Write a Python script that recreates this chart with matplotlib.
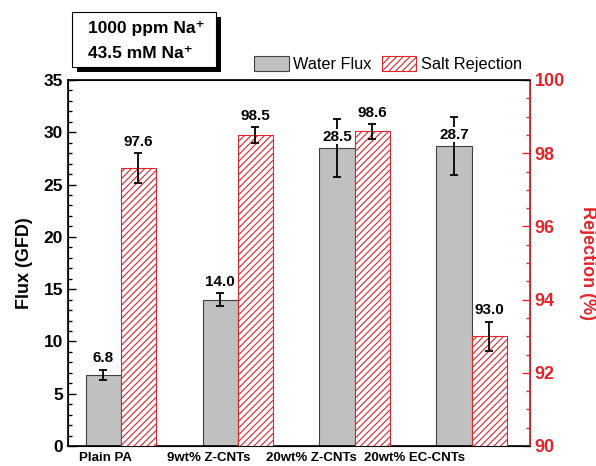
import numpy as np
import matplotlib.pyplot as plt
from matplotlib.patches import Patch, Rectangle

plt.rcParams['font.family'] = ['Liberation Sans', 'DejaVu Sans']
plt.rcParams['font.weight'] = 'bold'
plt.rcParams['hatch.linewidth'] = 0.8

samples = ["Plain PA", "9wt% Z-CNTs", "20wt% Z-CNTs", "20wt% EC-CNTs"]
flux = [6.8, 14.0, 28.5, 28.7]
flux_err = [0.5, 0.65, 2.8, 2.8]
rejection = [97.6, 98.5, 98.6, 93.0]
rejection_err = [0.41, 0.22, 0.2, 0.4]

red = '#e3242b'
x = np.arange(len(samples))
w = 0.3

fig = plt.figure(figsize=(5.96, 4.66), dpi=100)
ax = fig.add_axes([68/596, 1-446/466, (530-68)/596, (446-80)/466])
ax2 = ax.twinx()

ax.bar(x - w/2, flux, w, color='#c0c0c0', edgecolor='#404040', linewidth=0.8, zorder=2)
ax.errorbar(x - w/2, flux, yerr=flux_err, fmt='none', ecolor='black',
            elinewidth=1.3, capsize=3, capthick=1.3, zorder=3)
ax2.bar(x + w/2, rejection, w, bottom=0, color='white', edgecolor=red,
        hatch='/////', linewidth=0.8, zorder=2)
ax2.errorbar(x + w/2, rejection, yerr=rejection_err, fmt='none', ecolor='black',
             elinewidth=1.3, capsize=3, capthick=1.3, zorder=3)

# value labels
for xi, v, e in zip(x - w/2, flux, flux_err):
    y = v + e if e < 1 else v
    ax.annotate(f"{v:.1f}", (xi, y), xytext=(0, 3), textcoords='offset points',
                ha='center', va='bottom', fontsize=11, fontweight='bold',
                bbox=dict(facecolor='white', edgecolor='none', pad=0.3), zorder=5)
for xi, v, e in zip(x + w/2, rejection, rejection_err):
    ax2.annotate(f"{v:.1f}", (xi, v + e), xytext=(0, 3), textcoords='offset points',
                 ha='center', va='bottom', fontsize=11, fontweight='bold')

ax.set_xlim(-0.45, 3.5)
ax.set_ylim(0, 35)
ax2.set_ylim(90, 100)

ax.set_xticks([-0.13, 0.75, 1.63, 2.51])
ax.set_xticklabels(samples, fontsize=9.5, fontweight='bold')
ax.tick_params(axis='x', length=0, pad=4)

ax.set_yticks(np.arange(0, 36, 5))
ax.set_yticks(np.arange(0, 36, 1), minor=True)
ax.tick_params(axis='y', which='both', direction='in', labelsize=12.5)
ax.tick_params(axis='y', which='major', length=6, width=1)
ax.tick_params(axis='y', which='minor', length=3, width=1)
for lab in ax.get_yticklabels():
    lab.set_fontweight('bold')

ax2.set_yticks(np.arange(90, 101, 2))
ax2.set_yticks(np.arange(90, 100.1, 0.5), minor=True)
ax2.tick_params(axis='y', which='both', direction='in', colors=red, labelsize=13)
ax2.tick_params(axis='y', which='major', length=6, width=1)
ax2.tick_params(axis='y', which='minor', length=3, width=1)
for lab in ax2.get_yticklabels():
    lab.set_fontweight('bold')
ax2.spines['right'].set_color(red)
ax2.spines['right'].set_linewidth(1.2)
for s in ['left', 'top', 'bottom']:
    ax.spines[s].set_linewidth(1.2)

ax.set_ylabel("Flux (GFD)", fontsize=13, fontweight='bold', labelpad=8)
ax2.set_ylabel("Rejection (%)", fontsize=13, fontweight='bold', color=red,
               rotation=270, labelpad=22)

handles = [Patch(facecolor='#c0c0c0', edgecolor='#404040', linewidth=0.8, label='Water Flux'),
           Patch(facecolor='white', edgecolor=red, hatch='/////', linewidth=0.8, label='Salt Rejection')]
fig.legend(handles=handles, loc='center', bbox_to_anchor=(388/596, 1-64/466), ncol=2,
           frameon=False, prop={'weight': 'normal', 'size': 11.7},
           handlelength=2.1, handleheight=1.0, columnspacing=0.6, handletextpad=0.3)

# annotation box with shadow
fig.patches.append(Rectangle((77/596, 1-72/466), 144/596, 55/466, transform=fig.transFigure,
                             facecolor='black', edgecolor='none', zorder=1))
fig.patches.append(Rectangle((72/596, 1-67/466), 144/596, 55/466, transform=fig.transFigure,
                             facecolor='white', edgecolor='black', linewidth=0.8, zorder=2))
fig.text(88/596, 1-28/466, "1000 ppm Na\u207a", ha='left', va='center',
         fontsize=12.5, fontweight='bold', zorder=3)
fig.text(88/596, 1-53/466, "43.5 mM Na\u207a", ha='left', va='center',
         fontsize=12.5, fontweight='bold', zorder=3)

fig.savefig("out.png", dpi=100)
